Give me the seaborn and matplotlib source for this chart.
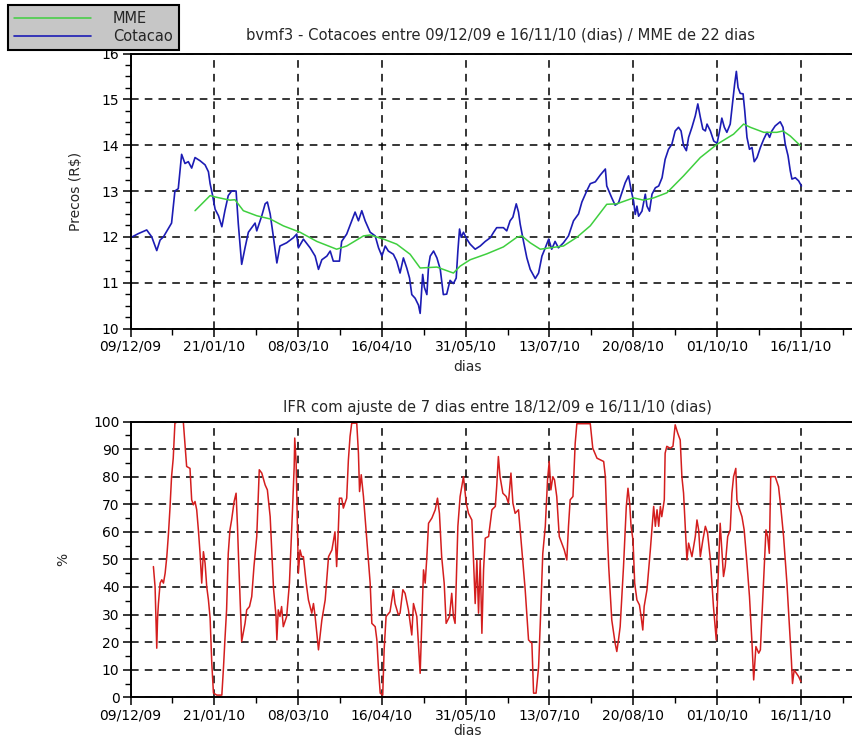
import numpy as np
import pandas as pd
import matplotlib
matplotlib.use("Agg")
import matplotlib.pyplot as plt
from matplotlib.ticker import MultipleLocator, FixedLocator, FixedFormatter
import seaborn as sns

# ---------------- data ----------------
date_ticks = [0, 30, 60, 90, 120, 150, 180, 210, 240]
date_labels = ["09/12/09", "21/01/10", "08/03/10", "16/04/10", "31/05/10",
               "13/07/10", "20/08/10", "01/10/10", "16/11/10"]

cot_day = [0, 2.8, 5.8, 7.6, 9.4, 10.6, 11.8, 14.7, 15.9, 17.1, 18.3, 19.5, 20.7, 21.9,
           23.1, 24.9, 26.7, 27.9, 28.5, 29.4, 30.3, 31.5, 32.7, 33.8, 35.0, 36.2, 37.8,
           38.6, 39.8, 41.0, 42.2, 43.4, 44.6, 45.2, 47.0, 48.2, 49.0, 50.0, 51.2, 52.4,
           53.5, 55.9, 58.3, 59.5, 60.1, 61.9, 64.3, 66.1, 67.3, 68.5, 70.3, 71.5, 72.6,
           74.8, 75.6, 77.4, 79.2, 80.4, 81.6, 82.8, 84.0, 85.8,
           87.6, 88.8, 90.0, 91.2, 92.3, 94.1, 95.3, 96.5, 97.7, 98.9, 99.9, 100.7, 101.9,
           103.1, 103.7, 104.6, 105.2, 106.1, 106.7, 107.3, 108.5, 109.7, 110.9, 112.0,
           113.2, 114.4, 115.6, 116.6, 117.2, 117.8, 118.4, 119.2, 120.4, 121.6, 123.4,
           125.2, 127.0, 128.8, 130.0, 131.1, 133.5, 134.7, 135.9, 136.9, 138.1, 138.9,
           139.5, 140.7, 141.9, 143.1, 144.9, 146.1, 147.3, 148.5, 149.7, 150.8, 152.0,
           153.2, 155.0, 156.8, 158.6, 160.4, 161.6, 163.4, 164.6, 166.4, 168.2, 170.0,
           170.5, 172.3, 173.5, 174.7, 175.9, 177.1, 178.3, 179.3, 180.1, 180.7, 181.3,
           181.9, 183.1, 184.3, 184.9, 185.8, 186.7, 187.9, 189.1, 190.3, 191.4, 192.6,
           193.8, 195.0, 196.2, 197.1, 198.0, 199.0, 199.8, 201.0, 202.2, 203.1, 204.0,
           204.9, 205.8, 206.4, 207.6, 208.8, 210.0, 210.9, 211.7, 212.6, 213.5, 214.7,
           215.7, 216.3, 216.9, 217.5, 218.3, 219.3, 219.9, 220.7, 221.6, 222.5, 223.3,
           224.3, 225.5, 226.7, 227.9, 228.8, 229.6, 230.8, 232.6, 233.6, 234.4, 235.4,
           236.2, 236.8, 238.0, 239.2, 240.2]
cot_val = [11.98, 12.07, 12.15, 12.0, 11.7, 11.93, 12.0, 12.3, 13.0, 13.05, 13.8, 13.6, 13.64, 13.5,
           13.73, 13.66, 13.57, 13.42, 13.16, 12.9, 12.6, 12.46, 12.22, 12.57, 12.9, 13.0, 13.0,
           12.28, 11.4, 11.76, 12.1, 12.2, 12.3, 12.13, 12.46, 12.72, 12.76, 12.5, 11.98, 11.43,
           11.8, 11.87, 11.98, 12.06, 11.76, 11.95, 11.76, 11.58, 11.29, 11.5, 11.58, 11.69, 11.47,
           11.47, 11.9, 12.06, 12.35, 12.54, 12.35, 12.57, 12.35, 12.1,
           12.02, 11.76, 11.58, 11.8, 11.69, 11.62, 11.47, 11.21, 11.54, 11.32, 11.1, 10.74, 10.66,
           10.51, 10.33, 11.18, 10.9, 10.74, 11.36, 11.58, 11.69, 11.54, 11.29, 10.74,
           10.75, 11.05, 10.98, 11.1, 11.69, 12.17, 11.99, 12.1, 11.95, 11.84, 11.73,
           11.8, 11.9, 11.98, 12.1, 12.2, 12.2, 12.13, 12.35, 12.43, 12.72, 12.54,
           12.28, 11.9, 11.54, 11.29, 11.09, 11.21, 11.58, 11.76, 11.95, 11.73, 11.9,
           11.76, 11.87, 12.02, 12.35, 12.5, 12.76, 13.01, 13.16, 13.2, 13.35, 13.48,
           13.11, 12.85, 12.69, 12.74, 12.96, 13.18, 13.33, 13.0, 12.78, 12.49, 12.67,
           12.45, 12.56, 12.93, 12.67, 12.56, 12.93, 13.07, 13.11, 13.29, 13.69, 13.91,
           14.02, 14.31, 14.39, 14.31, 13.99, 13.88, 14.17, 14.39, 14.64, 14.9, 14.61,
           14.35, 14.31, 14.46, 14.31, 14.09, 14.04, 14.31, 14.59, 14.39, 14.28, 14.46,
           15.0, 15.34, 15.61, 15.26, 15.13, 15.12, 14.75, 14.17, 13.91, 13.95, 13.64,
           13.73, 13.95, 14.13, 14.28, 14.17, 14.31, 14.42, 14.51, 14.39, 14.02, 13.77,
           13.44, 13.26, 13.29, 13.22, 13.11]

mme_day = [23.1, 28.5, 30.3, 35.6, 37.4, 40.4, 45.2, 50.0, 54.7, 60.7, 66.7, 73.8, 77.4, 83.4,
           85.8, 90.6, 95.3, 100.1, 103.7, 109.7, 115.6, 118.0, 121.6, 127.6, 133.5, 138.3,
           140.1, 143.1, 146.7, 150.2, 155.0, 159.8, 164.6, 170.5, 174.1, 180.1, 183.7,
           187.3, 192.0, 198.0, 204.0, 210.0, 215.9, 219.5, 221.9, 226.7, 231.4, 233.6,
           236.2, 239.8]
mme_val = [12.57, 12.9, 12.87, 12.8, 12.81, 12.57, 12.46, 12.39, 12.24, 12.1, 11.9, 11.73, 11.8, 12.02,
           12.04, 11.95, 11.84, 11.62, 11.32, 11.34, 11.21, 11.36, 11.5, 11.63, 11.78, 11.99,
           12.02, 11.87, 11.73, 11.76, 11.8, 11.99, 12.24, 12.71, 12.72, 12.85, 12.8,
           12.85, 12.96, 13.33, 13.73, 14.02, 14.24, 14.46, 14.39, 14.28, 14.28, 14.31,
           14.2, 13.99]

ifr_day = [8.2, 8.8, 9.1, 9.4, 9.7, 10.0, 10.6, 11.2, 11.8, 12.4, 13.0, 13.6, 14.1, 14.7, 15.3,
           15.9, 17.1, 18.9, 19.5, 20.1, 21.3, 21.9, 22.5, 23.1, 23.7, 24.3, 24.9, 25.5, 26.1,
           26.7, 27.3, 27.9, 28.5, 29.1, 29.7, 30.9, 32.7, 33.3, 33.8, 34.4, 35.0, 35.6, 36.2,
           37.1, 37.8, 38.3, 38.7, 39.2, 39.8, 41.0, 41.6, 42.6, 43.4, 44.2, 45.2, 46.1, 47.0,
           48.2, 49.0, 50.0, 51.2, 52.1, 52.4, 52.9, 53.5, 54.1, 54.7, 55.9, 56.9, 57.4, 58.0,
           58.6, 58.8, 59.3, 59.8, 60.1, 60.7, 61.3, 61.9, 62.9, 63.7, 64.9, 65.5, 66.1, 67.3,
           68.5, 69.7, 70.9, 72.1, 73.2, 73.8, 74.4, 74.8, 75.6, 76.2, 77.4, 78.0, 78.6, 79.2,
           81.0, 81.6, 82.0, 82.6, 83.4, 84.6, 85.8,
           86.4, 87.6, 88.2, 88.8, 89.4, 90.3, 90.8, 91.5, 92.9, 94.1, 94.7, 95.9, 96.5, 97.5,
           98.3, 99.5, 100.7, 101.3, 102.5, 103.7, 104.9, 105.5, 106.1, 106.7, 107.9, 109.1,
           109.9, 110.6, 111.4, 112.3, 113.0, 114.2, 115.0, 115.6, 116.2, 117.2, 118.0, 119.2,
           120.2, 121.0, 122.2, 122.8, 123.4, 124.0, 124.6, 125.2, 125.8, 126.4, 127.0, 128.2,
           129.4, 130.6, 131.1, 131.7, 132.3, 133.3, 134.5, 135.3, 136.2, 136.9, 137.7, 138.9,
           140.1, 141.3, 142.5, 143.7, 144.3, 145.2, 146.1, 146.7, 147.6, 148.5, 149.3, 149.9,
           150.5, 151.2, 151.8, 152.6, 153.5, 154.4, 155.3, 156.2, 156.8, 157.4, 158.4, 159.2,
           159.8, 164.6, 165.5, 167.0, 169.4, 170.0, 170.6, 171.2, 172.3, 173.5, 174.1, 174.7,
           175.3, 176.5, 177.5, 178.1, 178.7, 179.2, 179.9, 180.5, 181.3, 182.2, 182.8, 183.4,
           183.9, 184.9, 186.1, 187.3, 187.9, 188.5, 189.1, 189.7, 190.2, 191.1, 191.4, 192.0,
           193.2, 194.2, 195.0, 195.9, 196.8, 197.4, 198.0, 199.2, 199.8, 200.4, 201.0, 202.2,
           202.8, 203.4, 204.0, 204.9, 205.8, 206.6, 207.6, 208.7, 209.7, 210.3, 211.1, 211.7,
           212.3, 212.9, 213.8, 214.7, 215.3, 215.9, 216.7, 217.1, 218.1, 218.9, 219.7, 220.7,
           221.6, 222.5, 223.1, 223.9, 224.9, 225.5, 226.1, 226.7, 227.5, 228.1, 228.7, 229.2,
           230.8, 232.0, 232.9, 233.8, 234.4, 235.0, 235.9, 236.6, 237.0, 237.6, 238.4, 239.2,
           240.0]
ifr_val = [47.4, 40, 29, 17.8, 29, 34, 41.4, 42.6, 41.4, 45, 51, 59.5, 68, 80, 86.7,
           99.4, 100, 100, 92, 83.7, 83, 71.6, 69.8, 71, 68, 60.7, 52.2, 41.4, 52.8,
           48.6, 40, 35.3, 28.7, 12.3, 1.5, 0.8, 0.8, 11, 20.8, 31.7, 52.2, 60.7, 64.3,
           71, 74, 62, 50, 36.5, 20.2, 26.8, 31.7, 32.9, 36.5, 47.4, 58.3, 82.5, 81.3,
           77, 75.2, 65.5, 39.5, 29.3, 20.8, 31.7, 29.3, 32.9, 25.6, 29.3, 41.4, 53.4, 68,
           83.7, 94, 85, 59.5, 45, 53.4, 51, 51, 41.4, 35.3, 30.5, 34, 29.3, 17.2,
           28, 35.3, 51, 53.4, 60, 47.4, 60.7, 72.2, 72.2, 68.6, 72.2, 86, 94.6, 99.4,
           99.4, 88.5, 74.6, 80.7, 72.8, 57, 41.4,
           26.8, 25.6, 20.8, 9.9, 1.5, 0.8, 17.2, 29.3, 31, 39, 34, 29.9, 30.5, 39,
           37.7, 31.7, 22.6, 34, 29.3, 8.7, 46.2, 41.4, 51, 63.1, 65, 68,
           72.2, 66.7, 51, 41.4, 26.8, 29.3, 37.7, 29.3, 26.8, 62, 72.8, 80,
           70.4, 66.7, 64.3, 49.8, 34, 49.8, 30.5, 49.8, 23.2, 46.2, 57.7, 58.3,
           68, 69.2, 76.4, 87.3, 80, 74, 72.8, 70.4, 81.3, 70.4, 66.7, 68,
           53.4, 39, 20.8, 19.6, 1.5, 1.5, 11, 26.8, 52.2, 62, 78.8, 85.5,
           75.2, 80, 78.8, 72.8, 58.3, 55.9, 53.4, 49.8, 62, 71.6, 72.8, 92.1,
           99.2, 99.2, 90.3, 86.7, 85.5, 80, 62, 47.4, 28, 19.6, 16.6, 20.8,
           25.6, 47.4, 69.2, 75.8, 70.4, 62, 57, 41.4, 35.3, 33.5, 29.3, 24.4,
           33, 39, 53.4, 69.2, 62, 68, 62, 69.2, 65.5, 71.6, 88.5, 91,
           90.3, 91, 98.8, 95.8, 93.3, 80, 74, 49.8, 55.9, 53.4, 51, 58.3,
           64.3, 60.7, 51, 57, 62, 59.5, 49.8, 32.9, 20.8, 41.4, 63.1, 53.4,
           43.8, 47.4, 58.3, 60.7, 74, 80, 83, 71.6, 68, 65.5, 60.7, 48.6,
           36.5, 19.6, 6.3, 18.4, 16, 17.2, 30.5, 43.8, 60.7, 58.3, 52.2, 80,
           80, 76.4, 68, 58.3, 49.8, 41.4, 25.6, 13.5, 5, 9.9, 8.7, 7.5,
           5.7]

top_title = "bvmf3 - Cotacoes entre 09/12/09 e 16/11/10 (dias) / MME de 22 dias"
bot_title = "IFR com ajuste de 7 dias entre 18/12/09 e 16/11/10 (dias)"

# ---------------- style ----------------
sns.set_style("white")
plt.rcParams["font.family"] = ["DejaVu Sans"]
plt.rcParams["axes.edgecolor"] = "black"

W, H = 852, 740
fig = plt.figure(figsize=(W / 100, H / 100), dpi=100)

left = 130.5 / W
ax1 = fig.add_axes([left, 1 - 328.5 / H, 1 - left, (328.5 - 53.5) / H])
ax2 = fig.add_axes([left, 1 - 697.3 / H, 1 - left, (697.3 - 421.5) / H])

cot_df = pd.DataFrame({"dia": cot_day, "valor": cot_val})
mme_df = pd.DataFrame({"dia": mme_day, "valor": mme_val})
ifr_df = pd.DataFrame({"dia": ifr_day, "valor": ifr_val})

blue = "#1c1cb4"
green = "#3fcf3f"
red = "#d41e1e"

sns.lineplot(data=cot_df, x="dia", y="valor", ax=ax1, color=blue, lw=1.2,
             estimator=None, sort=False, label="Cotacao", legend=False)
sns.lineplot(data=mme_df, x="dia", y="valor", ax=ax1, color=green, lw=1.1,
             estimator=None, sort=False, label="MME", legend=False)
sns.lineplot(data=ifr_df, x="dia", y="valor", ax=ax2, color=red, lw=1.1,
             estimator=None, sort=False, legend=False)

grid_kw = dict(color="black", linestyle=(0, (5, 4)), linewidth=1.1)
for ax in (ax1, ax2):
    ax.set_xlim(0, 258.3)
    ax.xaxis.set_major_locator(FixedLocator(date_ticks))
    ax.xaxis.set_major_formatter(FixedFormatter(date_labels))
    ax.xaxis.set_minor_locator(MultipleLocator(15))
    ax.grid(True, which="major", **grid_kw)
    ax.set_axisbelow(True)
    ax.spines["right"].set_visible(False)
    for s in ("left", "bottom", "top"):
        ax.spines[s].set_linewidth(1.4)
        ax.spines[s].set_color("black")
    ax.tick_params(which="major", direction="out", length=6, width=1.1,
                   labelsize=10, colors="black", pad=2)
    ax.tick_params(which="minor", direction="out", length=4, width=1.0, colors="black")
    ax.tick_params(axis="x", which="both", bottom=True)
    ax.tick_params(axis="y", which="both", left=True)
    ax.set_facecolor("white")

ax1.set_ylim(10, 16)
ax1.yaxis.set_major_locator(MultipleLocator(1))
ax1.yaxis.set_minor_locator(MultipleLocator(0.25))
ax2.set_ylim(0, 100)
ax2.yaxis.set_major_locator(MultipleLocator(10))
ax2.yaxis.set_minor_locator(MultipleLocator(5))

ax1.set_title(top_title, fontsize=10.6, pad=10, x=(500 - 130.5) / (W - 130.5))
ax2.set_title(bot_title, fontsize=10.6, pad=7, x=(497 - 130.5) / (W - 130.5))
ax1.set_xlabel("dias", fontsize=10)
ax2.set_xlabel("dias", fontsize=10)
ax1.set_ylabel("Precos (R$)", fontsize=10)
ax2.set_ylabel("%", fontsize=10)
xl = (467 - 130.5) / (W - 130.5)
ax1.xaxis.set_label_coords(xl, -0.115)
ax2.xaxis.set_label_coords(xl, -0.098)
ax1.yaxis.set_label_coords(-(130.5 - 83) / (W - 130.5), 0.5)
ax2.yaxis.set_label_coords(-(130.5 - 70) / (W - 130.5), 0.5)

h_cot = ax1.lines[0]
h_mme = ax1.lines[1]
leg = fig.legend([h_mme, h_cot], ["MME", "Cotacao"], loc="upper left",
                 bbox_to_anchor=(8 / W, 1 - 5 / H), bbox_transform=fig.transFigure,
                 frameon=True, fancybox=False, facecolor="#c6c6c6", edgecolor="black",
                 framealpha=1, fontsize=10.5, handlelength=5.3, handletextpad=1.5,
                 borderpad=0.4, labelspacing=0.25, borderaxespad=0)
leg.get_frame().set_linewidth(1.5)

fig.savefig("out.png", dpi=100, facecolor="white")
